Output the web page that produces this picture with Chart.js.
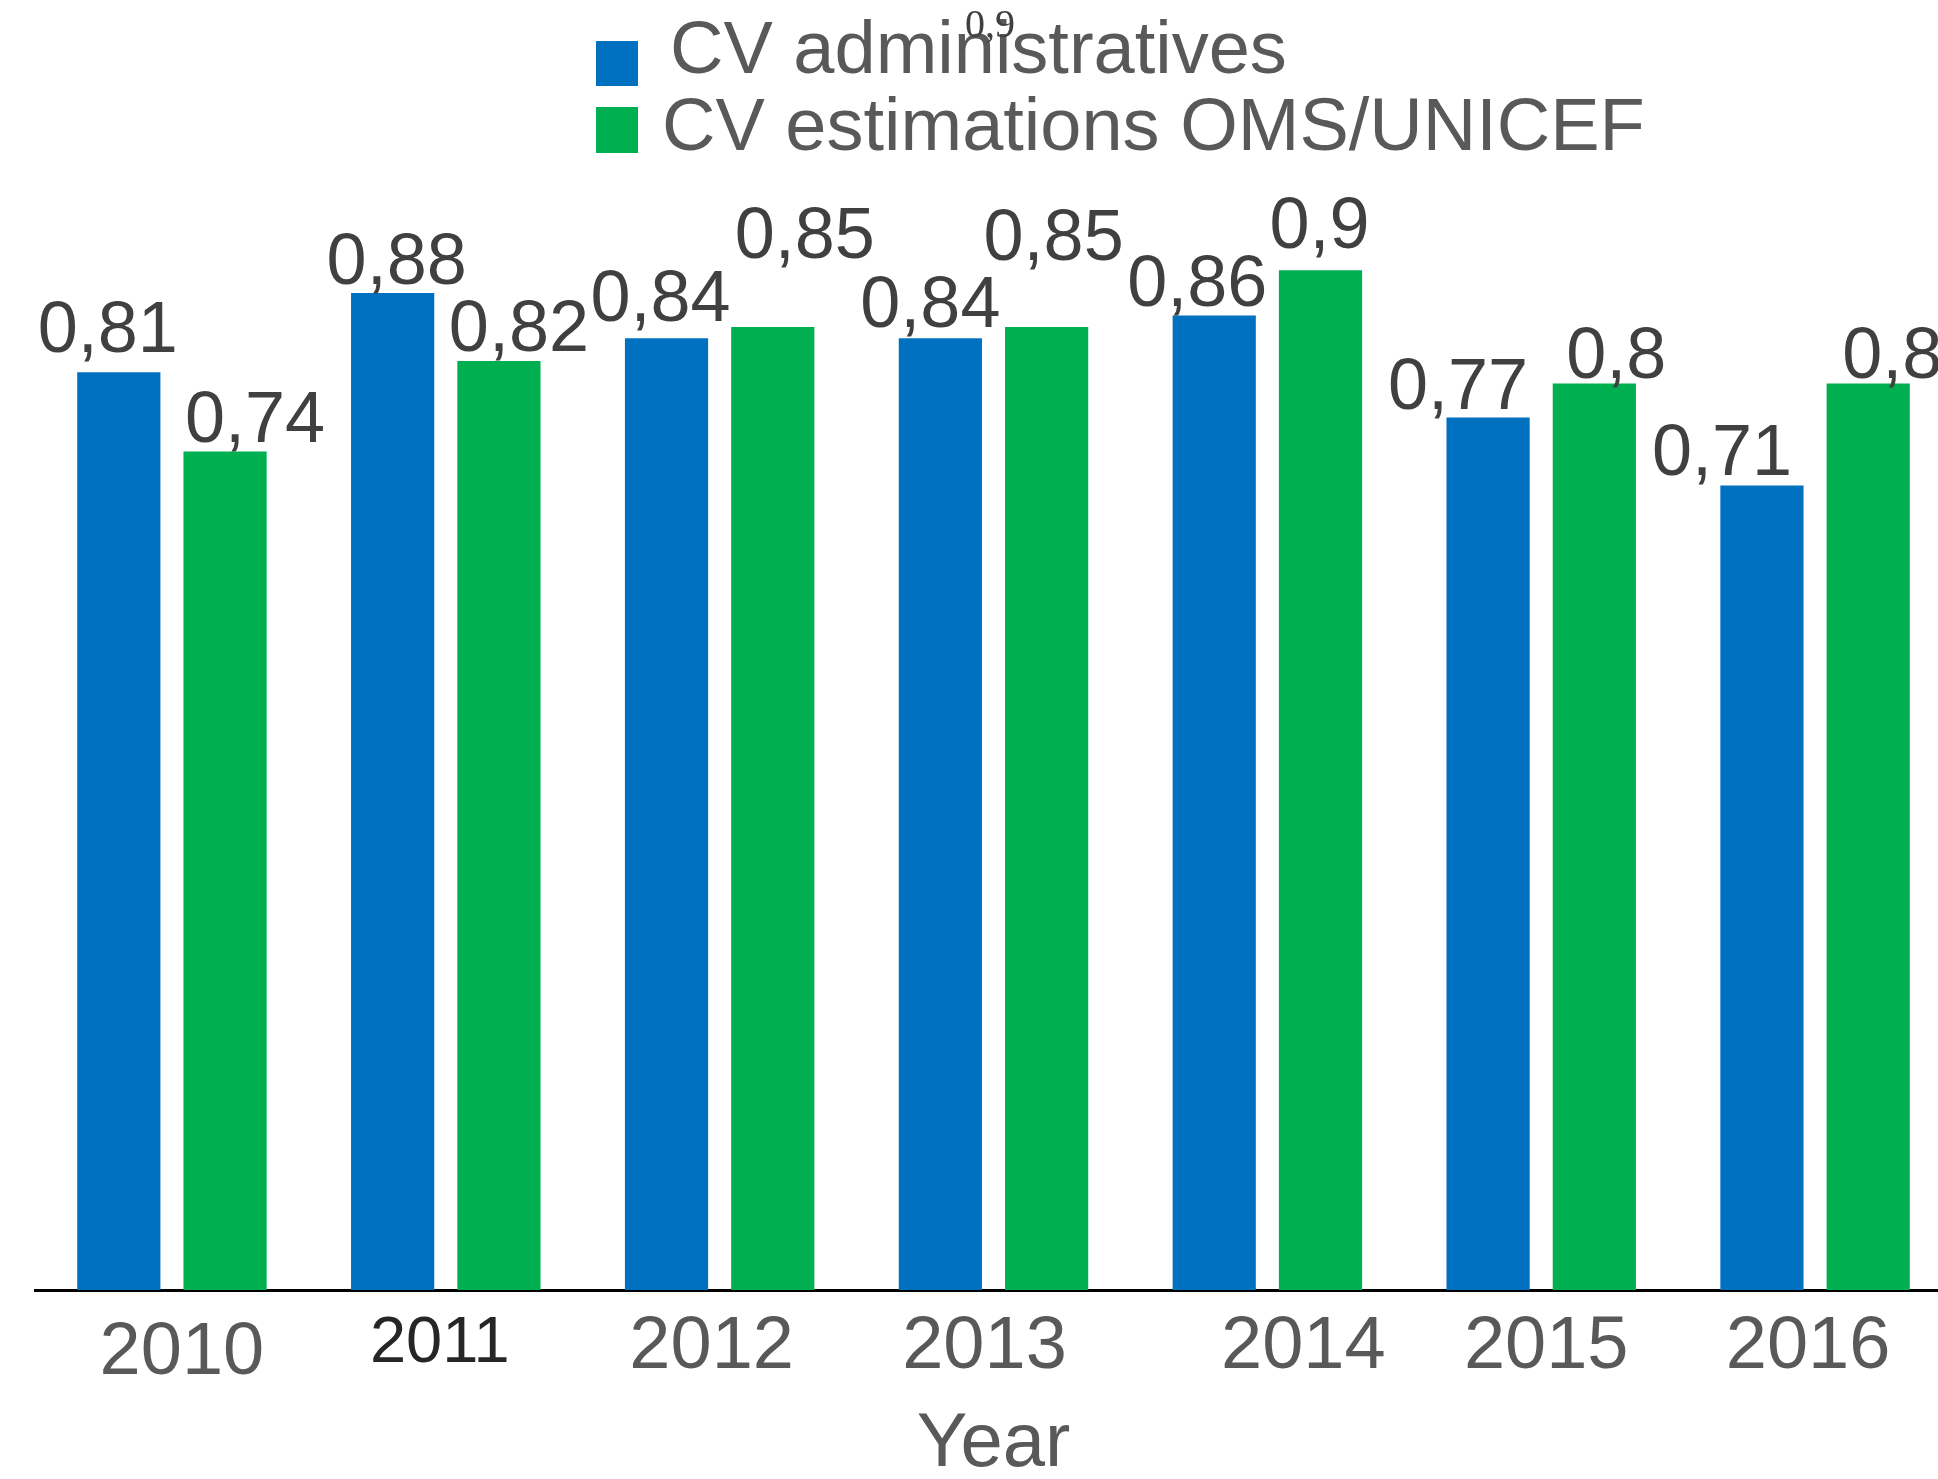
<!DOCTYPE html>
<html>
<head>
<meta charset="utf-8">
<title>CV administratives vs estimations OMS/UNICEF</title>
<script src="https://cdn.jsdelivr.net/npm/chart.js@4/dist/chart.umd.min.js"></script>
<style>
    html, body { margin: 0; padding: 0; background: #fff; overflow: hidden; }
    #wrap { width: 1952px; height: 1479px; }
</style>
</head>
<body>
<div id="wrap"><canvas id="cvChart" width="1952" height="1479" style="width:1952px;height:1479px"></canvas></div>
<script>
// Chart data
const years = ['2010', '2011', '2012', '2013', '2014', '2015', '2016'];
const cvAdmin = [0.81, 0.88, 0.84, 0.84, 0.86, 0.77, 0.71];
const cvOmsUnicef = [0.74, 0.82, 0.85, 0.85, 0.90, 0.80, 0.80];
const seriesNames = ['CV administratives', 'CV estimations OMS/UNICEF'];
const axisTitle = 'Year';

// Value label nudges (px) so labels sit where the original put them
const labelShiftX = [
    [-11, 4, -6, -10, -17, -30, -40],
    [30, 20, 32, 7, -1, 22, 24]
];
const labelGap = [
    [20, 9, 17, 11, 10, 9, 11],
    [10, 10, 69, 67, 22, 6, 6]
];
// Year labels in the original are not quite centred under their groups
const tickShiftX = [10, -6, -8, -9, 36, 5, -7];

const BLUE = '#0070C0';
const GREEN = '#00B050';
const FONT = '"Liberation Sans", Arial, sans-serif';

// Draws the value above every bar with a comma decimal separator
const valueLabels = {
    id: 'valueLabels',
    afterDatasetsDraw(chart) {
        const ctx = chart.ctx;
        ctx.save();
        ctx.font = '72px ' + FONT;
        ctx.fillStyle = '#404040';
        ctx.textAlign = 'center';
        ctx.textBaseline = 'alphabetic';
        chart.data.datasets.forEach((ds, di) => {
            chart.getDatasetMeta(di).data.forEach((bar, i) => {
                const text = String(ds.data[i]).replace('.', ',');
                ctx.fillText(text, bar.x + labelShiftX[di][i], bar.y - labelGap[di][i]);
            });
        });
        ctx.restore();
    }
};

// Nudge the x-axis tick labels after the scale has laid them out
const tickNudge = {
    id: 'tickNudge',
    afterUpdate(chart) {
        const items = chart.scales.x.getLabelItems();
        items.forEach((it, i) => {
            if (it.options && it.options.translation) {
                it.options.translation[0] += tickShiftX[i] || 0;
            }
        });
    }
};

// Legend stacked in two left-aligned rows above the plot
const stackedLegend = {
    id: 'stackedLegend',
    afterDraw(chart) {
        const ctx = chart.ctx;
        const rows = [
            { boxY: 41, boxH: 45, textX: 670, baseY: 73 },
            { boxY: 107, boxH: 46, textX: 662, baseY: 150 }
        ];
        ctx.save();
        chart.data.datasets.forEach((ds, i) => {
            const r = rows[i];
            ctx.fillStyle = ds.backgroundColor;
            ctx.fillRect(596, r.boxY, 42, r.boxH);
            ctx.font = '74px ' + FONT;
            ctx.fillStyle = '#595959';
            ctx.textAlign = 'left';
            ctx.textBaseline = 'alphabetic';
            ctx.fillText(ds.label, r.textX, r.baseY);
        });
        // stray small label left over in the original picture
        ctx.font = '40px "Liberation Serif", "Times New Roman", serif';
        ctx.fillStyle = '#404040';
        ctx.textAlign = 'left';
        ctx.fillText('0,9', 965, 37);
        ctx.restore();
    }
};

const tickColors = ['#595959', '#262626', '#595959', '#595959', '#595959', '#595959', '#595959'];

new Chart(document.getElementById('cvChart').getContext('2d'), {
    type: 'bar',
    data: {
        labels: years,
        datasets: [{
            label: seriesNames[0],
            data: cvAdmin,
            backgroundColor: BLUE,
            borderWidth: 0
        }, {
            label: seriesNames[1],
            data: cvOmsUnicef,
            backgroundColor: GREEN,
            borderWidth: 0
        }]
    },
    options: {
        responsive: false,
        animation: false,
        categoryPercentage: 0.776,
        barPercentage: 0.783,
        layout: {
            padding: { top: 157, left: 35, right: 0, bottom: 0 }
        },
        scales: {
            x: {
                grid: { display: false, drawTicks: false },
                border: { display: true, color: '#000000', width: 3 },
                ticks: {
                    padding: 13,
                    color: (c) => tickColors[c.index] || '#595959',
                    font: (c) => {
                        if (c.index === 0) return { family: FONT, size: 74, lineHeight: 1.36 };
                        if (c.index === 1) return { family: FONT, size: 65, lineHeight: 1.27 };
                        return { family: FONT, size: 74, lineHeight: 1.2 };
                    }
                },
                title: {
                    display: true,
                    text: axisTitle,
                    color: '#595959',
                    font: { family: FONT, size: 76, lineHeight: 0.9 },
                    padding: { top: 0, bottom: 0 }
                },
                afterFit: (scale) => { scale.height = 189; }
            },
            y: {
                display: false,
                min: 0,
                max: 1
            }
        },
        plugins: {
            legend: { display: false },
            tooltip: { enabled: false }
        }
    },
    plugins: [valueLabels, tickNudge, stackedLegend]
});
</script>
</body>
</html>
